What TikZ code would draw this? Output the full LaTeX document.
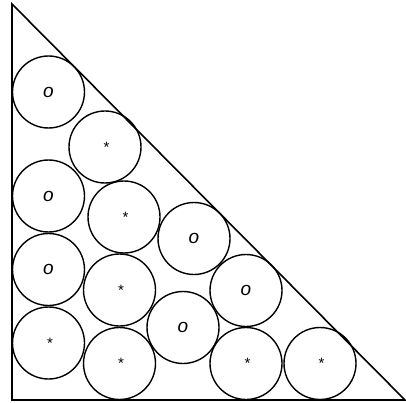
\documentclass[tikz,border=0pt]{standalone}
\usepackage{fontspec}
\setmainfont{Liberation Sans}
\begin{document}
\begin{tikzpicture}[x=1pt,y=-1pt,
  ball/.style={circle,draw,line width=1.4pt,minimum size=72pt,inner sep=0pt,font=\fontsize{19}{19}\selectfont\itshape},
  edge/.style={line width=1.6pt}]
\useasboundingbox (0,0) rectangle (406,403);
\coordinate (A) at (12,4);
\coordinate (B) at (12,400);
\coordinate (C) at (405,400);
\draw[edge] (A) -- (B) -- (C) -- cycle;
\newcommand{\st}{\hspace{3pt}\raisebox{-0.33em}{\fontsize{15}{15}\selectfont\upshape *}}
\node[ball] (c1) at (48.5,92) {o};
\node[ball] (c2) at (105,147) {\st};
\node[ball] (c3) at (48.5,196) {o};
\node[ball] (c4) at (124,217) {\st};
\node[ball] (c5) at (194,238.5) {o};
\node[ball] (c6) at (48.5,269.5) {o};
\node[ball] (c7) at (119.5,290) {\st};
\node[ball] (c8) at (246,290.5) {o};
\node[ball] (c9) at (183,327.5) {o};
\node[ball] (c10) at (48.5,343) {\st};
\node[ball] (c11) at (119.5,363.5) {\st};
\node[ball] (c12) at (246,363.5) {\st};
\node[ball] (c13) at (320,363.5) {\st};
\end{tikzpicture}
\end{document}
